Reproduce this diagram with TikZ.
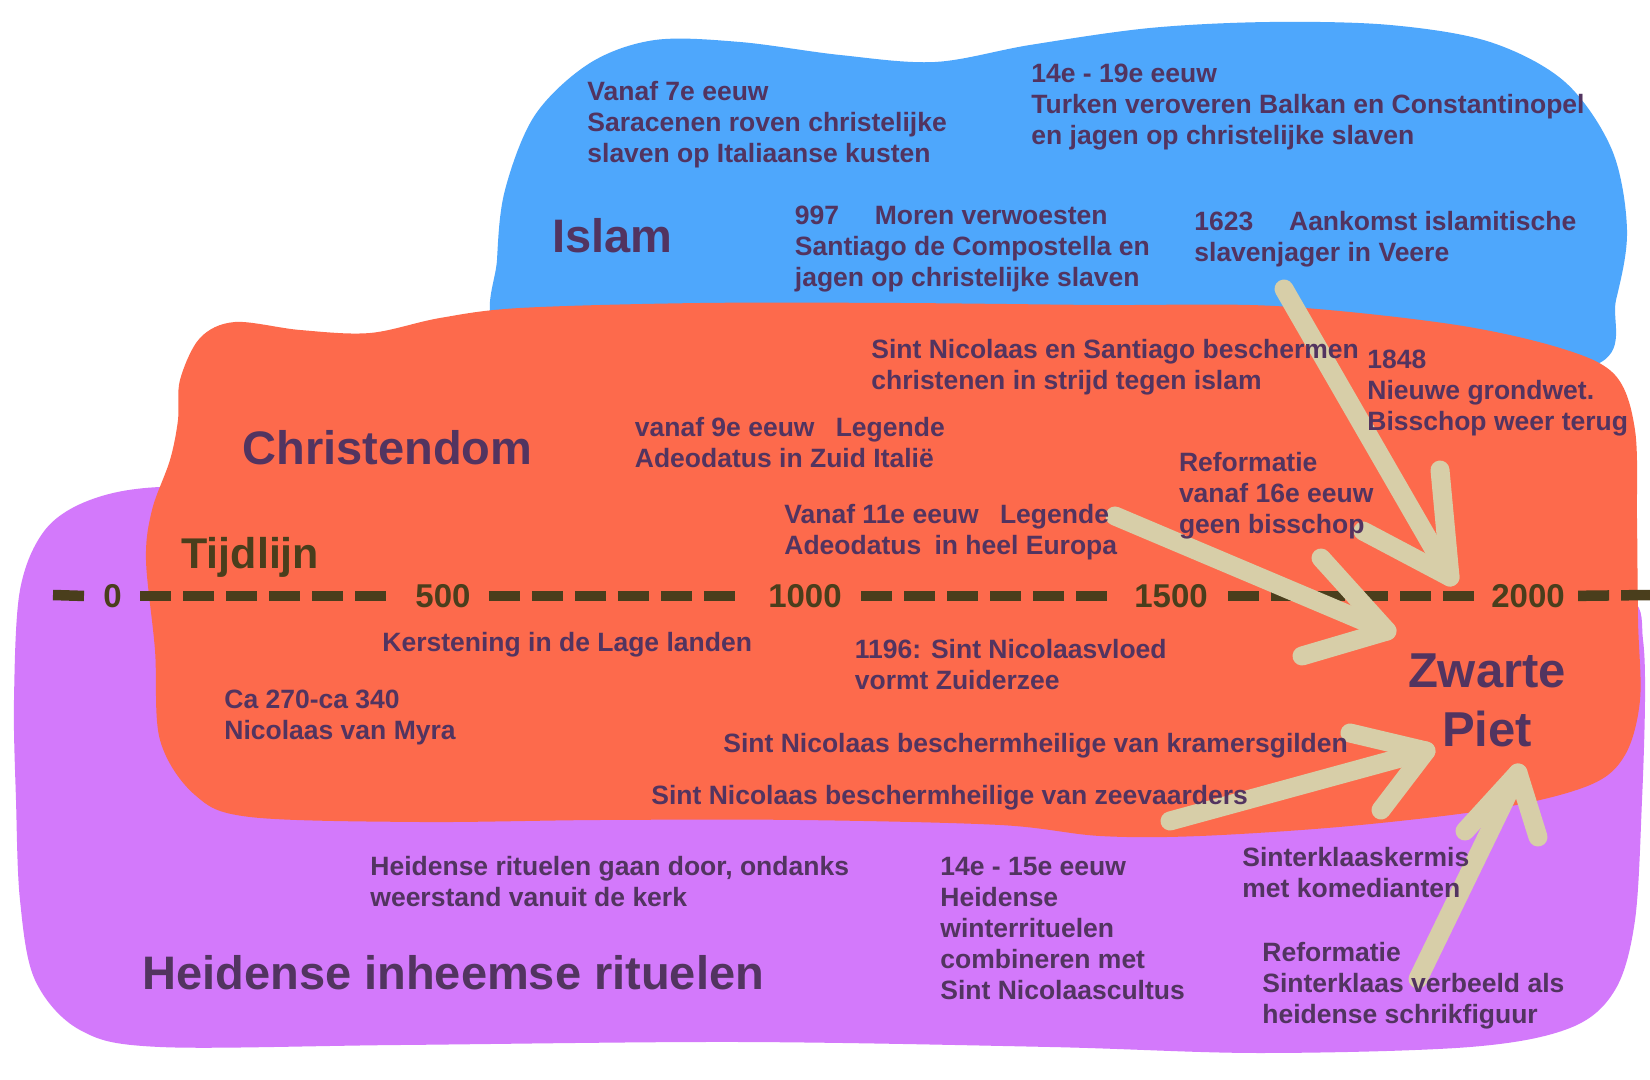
\documentclass[tikz,border=0pt]{standalone}
\usepackage{fontspec}
\setmainfont{Liberation Sans}
\definecolor{blueblob}{RGB}{78,167,252}
\definecolor{orangeblob}{RGB}{253,106,76}
\definecolor{purpleblob}{RGB}{211,121,251}
\definecolor{textc}{RGB}{82,52,96}
\definecolor{olivec}{RGB}{74,62,28}
\definecolor{arrowc}{RGB}{215,206,168}
\begin{document}
\begin{tikzpicture}[x=0.5pt,y=-0.5pt,
  txt/.style={anchor=north west, inner sep=0pt, align=left, text=textc,
    font=\bfseries\fontsize{13.25pt}{15.5pt}\selectfont},
  title/.style={anchor=west, inner sep=0pt, text=textc,
    font=\bfseries\fontsize{23.5pt}{28pt}\selectfont},
  tlabel/.style={inner sep=0pt, text=olivec, font=\bfseries\fontsize{16.5pt}{20pt}\selectfont},
  tl/.style={draw=olivec, line width=5.25pt, dash pattern=on 15.5pt off 6pt},
  bigarrow/.style={draw=arrowc, line width=9.5pt, line cap=round, line join=round}]
\useasboundingbox (0,0) rectangle (1650,1080);
\fill[white] (0,0) rectangle (1650,1080);

% blobs
\fill[purpleblob] plot[smooth cycle, tension=0.55] coordinates {
 (160,487) (90,500) (45,530) (20,590) (14,700) (16,800) (20,900) (35,980)
 (80,1030) (160,1047) (400,1045) (740,1042) (1050,1047) (1260,1053) (1470,1047)
 (1570,1028) (1615,990) (1635,920) (1642,800) (1645,700) (1643,640) (1632,600)
 (1560,585) (1400,570) (800,530) (300,490)};
\fill[blueblob] plot[smooth cycle, tension=0.55] coordinates {
 (497,330) (497,260) (505,190) (535,115) (590,63) (655,40) (740,42) (840,55)
 (935,62) (1030,45) (1150,28) (1270,22) (1390,25) (1490,42) (1565,82) (1612,150)
 (1627,230) (1616,300) (1595,365) (1400,385) (1000,385) (600,385)};
\fill[orangeblob] plot[smooth cycle, tension=0.55] coordinates {
 (180,380) (200,338) (235,322) (300,330) (370,333) (440,318) (520,308) (700,303)
 (900,303) (1100,305) (1275,306) (1450,324) (1560,348) (1615,375) (1635,430)
 (1637,520) (1638,620) (1640,700) (1625,755) (1590,785) (1500,808) (1350,826)
 (1200,836) (1100,836) (1000,825) (800,820) (600,820) (420,822) (250,817)
 (195,795) (160,740) (155,650) (146,560) (152,510) (170,460) (178,420)};

% timeline
\node[tlabel] (t0) at (112.6,596) {0};
\node[tlabel] (t500) at (443,596) {500};
\node[tlabel] (t1000) at (805,596) {1000};
\node[tlabel] (t1500) at (1171,596) {1500};
\node[tlabel] (t2000) at (1528,596) {2000};
\coordinate (tlstart) at (53,595);
\coordinate (tlend) at (1650,595);
\draw[tl] (tlstart) -- ([xshift=-8.7pt]t0.west);
\draw[tl, shorten <=9pt] (t0.east) -- ([xshift=-10pt]t500.west);
\draw[tl, shorten <=9pt] (t500.east) -- ([xshift=-11pt]t1000.west);
\draw[tl, shorten <=9.5pt] (t1000.east) -- ([xshift=-9.5pt]t1500.west);
\draw[tl, shorten <=10pt] (t1500.east) -- ([xshift=-8pt]t2000.west);
\draw[tl, shorten <=6.5pt] (t2000.east) -- (tlend);

% arrows
\coordinate (a1s) at (1284,289); \coordinate (a1t) at (1450,577);
\coordinate (a1l) at (1363,531); \coordinate (a1r) at (1440,470);
\coordinate (a2s) at (1115,516); \coordinate (a2t) at (1387,631);
\coordinate (a2u) at (1321,558); \coordinate (a2d) at (1302,656);
\coordinate (a4s) at (1170,821); \coordinate (a4t) at (1426,751);
\coordinate (a4u) at (1350,733); \coordinate (a4d) at (1381,810);
\coordinate (a5s) at (1418,979); \coordinate (a5t) at (1518,773);
\coordinate (a5l) at (1465,831); \coordinate (a5r) at (1538,837);
\draw[bigarrow] (a1s) -- (a1t); \draw[bigarrow] (a1l) -- (a1t) -- (a1r);
\draw[bigarrow] (a2s) -- (a2t); \draw[bigarrow] (a2u) -- (a2t) -- (a2d);
\draw[bigarrow] (a4s) -- (a4t); \draw[bigarrow] (a4u) -- (a4t) -- (a4d);
\draw[bigarrow] (a5s) -- (a5t); \draw[bigarrow] (a5l) -- (a5t) -- (a5r);

% titles
\node[title] (islam) at (552,236) {Islam};
\node[title] (christ) at (242,448) {Christendom};
\node[title] (heid) at (142,973) {Heidense inheemse rituelen};
\node[anchor=base west, inner sep=0pt, text=olivec, font=\bfseries\fontsize{21.5pt}{26pt}\selectfont] (tijd) at (181,568) {Tijdlijn};
\node[align=center, inner sep=0pt, text=textc, font=\bfseries\fontsize{24.5pt}{29.5pt}\selectfont] (zp) at (1487,700) {Zwarte\\Piet};

% texts
\node[txt] (b1) at (587,81) {Vanaf 7e eeuw\\Saracenen roven christelijke\\slaven op Italiaanse kusten};
\node[txt] (b2) at (1031,64) {14e - 19e eeuw\\Turken veroveren Balkan en Constantinopel\\en jagen op christelijke slaven};
\node[txt] (b3) at (794.5,206) {997\hspace{1.35em}Moren verwoesten\\Santiago de Compostella en\\jagen op christelijke slaven};
\node[txt] (b4) at (1194,210.5) {1623\hspace{1.35em}Aankomst islamitische\\slavenjager in Veere};
\node[txt] (o1) at (871,339) {Sint Nicolaas en Santiago beschermen\\christenen in strijd tegen islam};
\node[txt] (o2) at (1367,350) {1848\\Nieuwe grondwet.\\Bisschop weer terug};
\node[txt] (o3) at (634.5,417) {vanaf 9e eeuw\hspace{0.8em}Legende\\Adeodatus in Zuid Italië};
\node[txt] (o4) at (1178.6,451.5) {Reformatie\\vanaf 16e eeuw\\geen bisschop};
\node[txt] (o5) at (784,504) {Vanaf 11e eeuw\hspace{0.8em}Legende\\Adeodatus\hspace{0.5em}in heel Europa};
\node[txt] (o6) at (382,632) {Kerstening in de Lage landen};
\node[txt] (o7) at (854.5,639) {1196: Sint Nicolaasvloed\\vormt Zuiderzee};
\node[txt] (o8) at (224,690) {Ca 270-ca 340\\Nicolaas van Myra};
\node[txt] (o9) at (723,733) {Sint Nicolaas beschermheilige van kramersgilden};
\node[txt] (o10) at (651,785) {Sint Nicolaas beschermheilige van zeevaarders};
\node[txt] (p1) at (370,855.5) {Heidense rituelen gaan door, ondanks\\weerstand vanuit de kerk};
\node[txt] (p2) at (940,856.5) {14e - 15e eeuw\\Heidense\\winterrituelen\\combineren met\\Sint Nicolaascultus};
\node[txt] (p3) at (1242,847) {Sinterklaaskermis\\met komedianten};
\node[txt] (p4) at (1262,942) {Reformatie\\Sinterklaas verbeeld als\\heidense schrikfiguur};
\end{tikzpicture}
\end{document}
